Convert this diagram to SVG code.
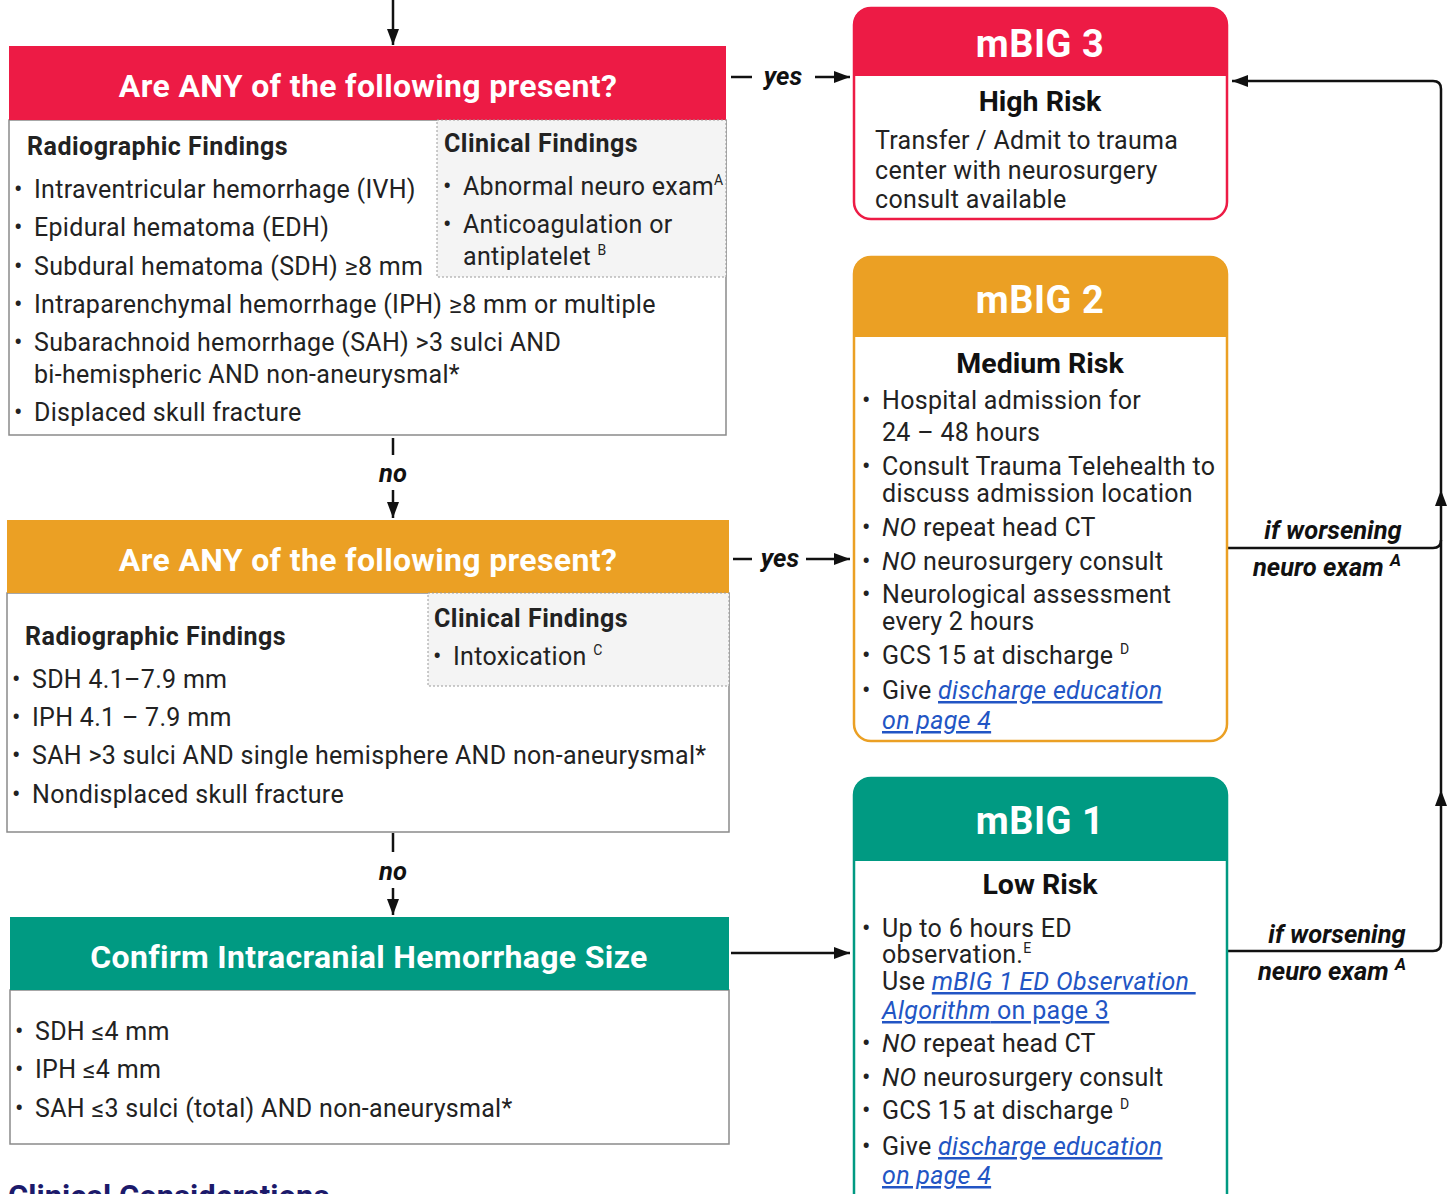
<svg xmlns="http://www.w3.org/2000/svg" width="1452" height="1194" viewBox="0 0 1452 1194">
<defs>
<style>
text{font-family:Roboto,"Liberation Sans",sans-serif;fill:#222;}
.t{font-size:25px;letter-spacing:0.3px;}
.b{font-weight:bold;letter-spacing:0.5px;}
.hd{font-size:32px;font-weight:bold;fill:#fff;letter-spacing:0.35px;}
.mt{font-size:38px;font-weight:bold;fill:#fff;letter-spacing:0.5px;}
.risk{font-size:28.5px;font-weight:bold;fill:#111;}
.lbl{font-size:25.5px;font-weight:bold;font-style:italic;fill:#111;}
.sup{font-size:14px;}
.sup2{font-size:17px;}
.lnk{fill:#2255c4;text-decoration:underline;}
.it{font-style:italic;}
.conn{fill:none;stroke:#111;stroke-width:2.5;}
.body{fill:#fff;stroke:#8a8a8a;stroke-width:1.5;}
.clin{fill:#f4f4f4;stroke:#9a9a9a;stroke-width:1;stroke-dasharray:2 2;}
</style>
<marker id="ah" viewBox="0 0 16 12" refX="16" refY="6" markerWidth="16" markerHeight="12" markerUnits="userSpaceOnUse" orient="auto">
<path d="M0,0 L16,6 L0,12 Z" fill="#111"/>
</marker>
</defs>

<g id="connectors">
<path class="conn" d="M393,0 V45" marker-end="url(#ah)"/>
<path class="conn" d="M731,77 H752"/>
<path class="conn" d="M815,77 H850" marker-end="url(#ah)"/>
<text class="lbl" x="783" y="85" text-anchor="middle">yes</text>
<path class="conn" d="M393,438 V455"/>
<text class="lbl" x="393" y="482" text-anchor="middle">no</text>
<path class="conn" d="M393,490 V518" marker-end="url(#ah)"/>
<path class="conn" d="M733,559 H752"/>
<text class="lbl" x="780" y="567" text-anchor="middle">yes</text>
<path class="conn" d="M806,559 H850" marker-end="url(#ah)"/>
<path class="conn" d="M393,833 V852"/>
<text class="lbl" x="393" y="880" text-anchor="middle">no</text>
<path class="conn" d="M393,888 V915" marker-end="url(#ah)"/>
<path class="conn" d="M731,953 H850" marker-end="url(#ah)"/>
<path class="conn" d="M1228,548 H1433 Q1441,548 1441,540 V89 Q1441,81 1433,81 H1232" marker-end="url(#ah)"/>
<path class="conn" d="M1228,951 H1433 Q1441,951 1441,943 V540"/>
<path d="M1441,490 L1447,506 L1435,506 Z" fill="#111"/>
<path d="M1441,790 L1447,806 L1435,806 Z" fill="#111"/>
<text class="lbl" x="1333" y="539" text-anchor="middle">if worsening</text>
<text class="lbl" x="1327" y="576" text-anchor="middle">neuro exam <tspan class="sup2" dy="-10">A</tspan></text>
<text class="lbl" x="1337" y="943" text-anchor="middle">if worsening</text>
<text class="lbl" x="1332" y="980" text-anchor="middle">neuro exam <tspan class="sup2" dy="-10">A</tspan></text>
</g>

<g id="q1">
<rect class="body" x="9" y="120" width="717" height="315"/>
<rect x="9" y="46" width="717" height="74" fill="#ED1B45"/>
<text class="hd" x="368" y="97" text-anchor="middle">Are ANY of the following present?</text>
<rect class="clin" x="437" y="120" width="289" height="157"/>
<text class="t b" x="27" y="155">Radiographic Findings</text>
<text class="t" x="14" y="198">•</text><text class="t" x="34" y="198">Intraventricular hemorrhage (IVH)</text>
<text class="t" x="14" y="236">•</text><text class="t" x="34" y="236">Epidural hematoma (EDH)</text>
<text class="t" x="14" y="275">•</text><text class="t" x="34" y="275">Subdural hematoma (SDH) ≥8 mm</text>
<text class="t" x="14" y="313">•</text><text class="t" x="34" y="313">Intraparenchymal hemorrhage (IPH) ≥8 mm or multiple</text>
<text class="t" x="14" y="351">•</text><text class="t" x="34" y="351">Subarachnoid hemorrhage (SAH) &gt;3 sulci AND</text>
<text class="t" x="34" y="383">bi-hemispheric AND non-aneurysmal*</text>
<text class="t" x="14" y="421">•</text><text class="t" x="34" y="421">Displaced skull fracture</text>
<text class="t b" x="444" y="152">Clinical Findings</text>
<text class="t" x="443" y="195">•</text><text class="t" x="463" y="195">Abnormal neuro exam<tspan class="sup" dy="-10">A</tspan></text>
<text class="t" x="443" y="233">•</text><text class="t" x="463" y="233">Anticoagulation or</text>
<text class="t" x="463" y="265">antiplatelet <tspan class="sup" dy="-10">B</tspan></text>
</g>

<g id="q2">
<rect class="body" x="7" y="593" width="722" height="239"/>
<rect x="7" y="520" width="722" height="73" fill="#EBA024"/>
<text class="hd" x="368" y="571" text-anchor="middle">Are ANY of the following present?</text>
<rect class="clin" x="428" y="593" width="301" height="93"/>
<text class="t b" x="434" y="627">Clinical Findings</text>
<text class="t" x="433" y="665">•</text><text class="t" x="453" y="665">Intoxication <tspan class="sup" dy="-10">C</tspan></text>
<text class="t b" x="25" y="645">Radiographic Findings</text>
<text class="t" x="12" y="688">•</text><text class="t" x="32" y="688">SDH 4.1–7.9 mm</text>
<text class="t" x="12" y="726">•</text><text class="t" x="32" y="726">IPH 4.1 – 7.9 mm</text>
<text class="t" x="12" y="764">•</text><text class="t" x="32" y="764">SAH &gt;3 sulci AND single hemisphere AND non-aneurysmal*</text>
<text class="t" x="12" y="803">•</text><text class="t" x="32" y="803">Nondisplaced skull fracture</text>
</g>

<g id="confirm">
<rect class="body" x="10" y="990" width="719" height="154"/>
<rect x="10" y="917" width="719" height="73" fill="#009A82"/>
<text class="hd" x="369" y="968" text-anchor="middle">Confirm Intracranial Hemorrhage Size</text>
<text class="t" x="15" y="1040">•</text><text class="t" x="35" y="1040">SDH ≤4 mm</text>
<text class="t" x="15" y="1078">•</text><text class="t" x="35" y="1078">IPH ≤4 mm</text>
<text class="t" x="15" y="1117">•</text><text class="t" x="35" y="1117">SAH ≤3 sulci (total) AND non-aneurysmal*</text>
</g>

<g id="mbig3">
<rect x="854" y="8" width="373" height="211" rx="17" fill="#fff" stroke="#ED1B45" stroke-width="2.5"/>
<path d="M854,76 V25 Q854,8 871,8 H1210 Q1227,8 1227,25 V76 Z" fill="#ED1B45"/>
<text class="mt" x="1040" y="57" text-anchor="middle">mBIG 3</text>
<text class="risk" x="1040" y="111" text-anchor="middle">High Risk</text>
<text class="t" x="875" y="149">Transfer / Admit to trauma</text>
<text class="t" x="875" y="179">center with neurosurgery</text>
<text class="t" x="875" y="208">consult available</text>
</g>

<g id="mbig2">
<rect x="854" y="257" width="373" height="484" rx="17" fill="#fff" stroke="#EBA024" stroke-width="2.5"/>
<path d="M854,337 V274 Q854,257 871,257 H1210 Q1227,257 1227,274 V337 Z" fill="#EBA024"/>
<text class="mt" x="1040" y="313" text-anchor="middle">mBIG 2</text>
<text class="risk" x="1040" y="373" text-anchor="middle">Medium Risk</text>
<text class="t" x="862" y="409">•</text><text class="t" x="882" y="409">Hospital admission for</text>
<text class="t" x="882" y="441">24 – 48 hours</text>
<text class="t" x="862" y="475">•</text><text class="t" x="882" y="475">Consult Trauma Telehealth to</text>
<text class="t" x="882" y="502">discuss admission location</text>
<text class="t" x="862" y="536">•</text><text class="t" x="882" y="536"><tspan class="it">NO</tspan> repeat head CT</text>
<text class="t" x="862" y="570">•</text><text class="t" x="882" y="570"><tspan class="it">NO</tspan> neurosurgery consult</text>
<text class="t" x="862" y="603">•</text><text class="t" x="882" y="603">Neurological assessment</text>
<text class="t" x="882" y="630">every 2 hours</text>
<text class="t" x="862" y="664">•</text><text class="t" x="882" y="664">GCS 15 at discharge <tspan class="sup" dy="-10">D</tspan></text>
<text class="t" x="862" y="699">•</text><text class="t" x="882" y="699">Give <tspan class="lnk it">discharge education </tspan></text>
<text class="t lnk it" x="882" y="729">on page 4</text>
</g>

<g id="mbig1">
<rect x="854" y="778" width="373" height="440" rx="17" fill="#fff" stroke="#009A82" stroke-width="2.5"/>
<path d="M854,861 V795 Q854,778 871,778 H1210 Q1227,778 1227,795 V861 Z" fill="#009A82"/>
<text class="mt" x="1040" y="834" text-anchor="middle">mBIG 1</text>
<text class="risk" x="1040" y="894" text-anchor="middle">Low Risk</text>
<text class="t" x="862" y="937">•</text>
<text class="t" x="882" y="937">Up to 6 hours ED<tspan x="882" y="963">observation.</tspan><tspan class="sup" dy="-10">E</tspan><tspan x="882" y="990">Use </tspan><tspan class="lnk it">mBIG 1 ED Observation </tspan><tspan class="lnk it" x="882" y="1019">Algorithm</tspan><tspan class="lnk"> on page 3</tspan></text>
<text class="t" x="862" y="1052">•</text><text class="t" x="882" y="1052"><tspan class="it">NO</tspan> repeat head CT</text>
<text class="t" x="862" y="1086">•</text><text class="t" x="882" y="1086"><tspan class="it">NO</tspan> neurosurgery consult</text>
<text class="t" x="862" y="1119">•</text><text class="t" x="882" y="1119">GCS 15 at discharge <tspan class="sup" dy="-10">D</tspan></text>
<text class="t" x="862" y="1155">•</text><text class="t" x="882" y="1155">Give <tspan class="lnk it">discharge education </tspan></text>
<text class="t lnk it" x="882" y="1184">on page 4</text>
</g>

<text x="8" y="1207" style="font-size:31px;font-weight:bold;fill:#1c1a6b;">Clinical Considerations</text>
</svg>
